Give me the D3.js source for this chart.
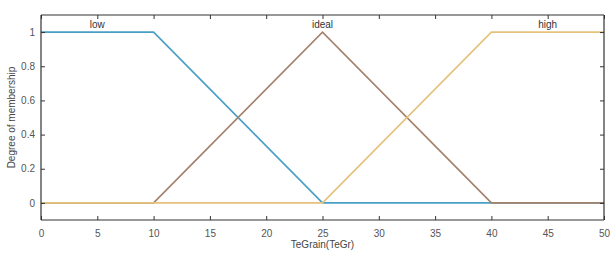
<!DOCTYPE html>
<html><head><meta charset="utf-8">
<script src="https://cdn.jsdelivr.net/npm/d3@7"></script>
<style>body{margin:0;background:#fff}svg{display:block}text{font-family:"Liberation Sans",Arial,sans-serif}</style>
</head><body><svg id="c" width="612" height="253"></svg>
<script>
const mfNames = ["low", "ideal", "high"];
const mfColors = ["#4a9fc4", "#a3826c", "#e5c27c"];
const lowX = [0, 10, 25, 50];
const lowY = [1, 1, 0, 0];
const idealX = [0, 10, 25, 40, 50];
const idealY = [0, 0, 1, 0, 0];
const highX = [0, 25, 40, 50];
const highY = [0, 0, 1, 1];
const labelX = [5, 25, 45];
const xTicks = [0, 5, 10, 15, 20, 25, 30, 35, 40, 45, 50];
const yTicks = [0, 0.2, 0.4, 0.6, 0.8, 1];
const xLabel = "TeGrain(TeGr)";
const yLabel = "Degree of membership";

const svg = d3.select("#c");
const L = 41, R = 604, T = 15, B = 220;
const x = d3.scaleLinear().domain([0, 50]).range([L, R]);
const y = d3.scaleLinear().domain([-0.1, 1.1]).range([B, T]);

const series = [
  lowX.map((v, i) => [v, lowY[i]]),
  idealX.map((v, i) => [v, idealY[i]]),
  highX.map((v, i) => [v, highY[i]])
];
const line = d3.line().x(d => x(d[0])).y(d => y(d[1]));
[0, 1, 2].forEach(i => {
  svg.append("path").attr("d", line(series[i])).attr("fill", "none")
    .attr("stroke", mfColors[i]).attr("stroke-width", 1.6);
});

const axColor = "#333";
const fmt = d => d3.format("")(+d.toFixed(1));
const gB = svg.append("g").attr("transform", `translate(0,${B})`)
  .call(d3.axisBottom(x).tickValues(xTicks).tickSize(-4).tickPadding(10).tickFormat(fmt));
const gT = svg.append("g").attr("transform", `translate(0,${T})`)
  .call(d3.axisTop(x).tickValues(xTicks).tickSize(-4).tickFormat(""));
const gL = svg.append("g").attr("transform", `translate(${L},0)`)
  .call(d3.axisLeft(y).tickValues(yTicks).tickSize(-4).tickPadding(6).tickFormat(fmt));
const gR = svg.append("g").attr("transform", `translate(${R},0)`)
  .call(d3.axisRight(y).tickValues(yTicks).tickSize(-4).tickFormat(""));
[gB, gT, gL, gR].forEach(g => {
  g.select(".domain").attr("stroke", axColor).attr("stroke-width", 1.2);
  g.selectAll(".tick line").attr("stroke", axColor);
  g.selectAll(".tick text").attr("fill", "#555").style("font-size", "10px");
});
[gB, gT].forEach(g => g.select(".domain").attr("d", `M${L},0H${R}`));
[gL, gR].forEach(g => g.select(".domain").attr("d", `M0,${T}V${B}`));

mfNames.forEach((n, i) => {
  svg.append("text").attr("x", x(labelX[i])).attr("y", 28).attr("text-anchor", "middle")
    .style("font-size", "10px").attr("fill", "#333").text(n);
});

svg.append("text").attr("x", x(25)).attr("y", 248).attr("text-anchor", "middle")
  .style("font-size", "10px").attr("fill", "#444").text(xLabel);
svg.append("text").attr("transform", `translate(15,${(T + B) / 2}) rotate(-90)`)
  .attr("text-anchor", "middle").style("font-size", "10px").attr("fill", "#444").text(yLabel);
</script></body></html>
